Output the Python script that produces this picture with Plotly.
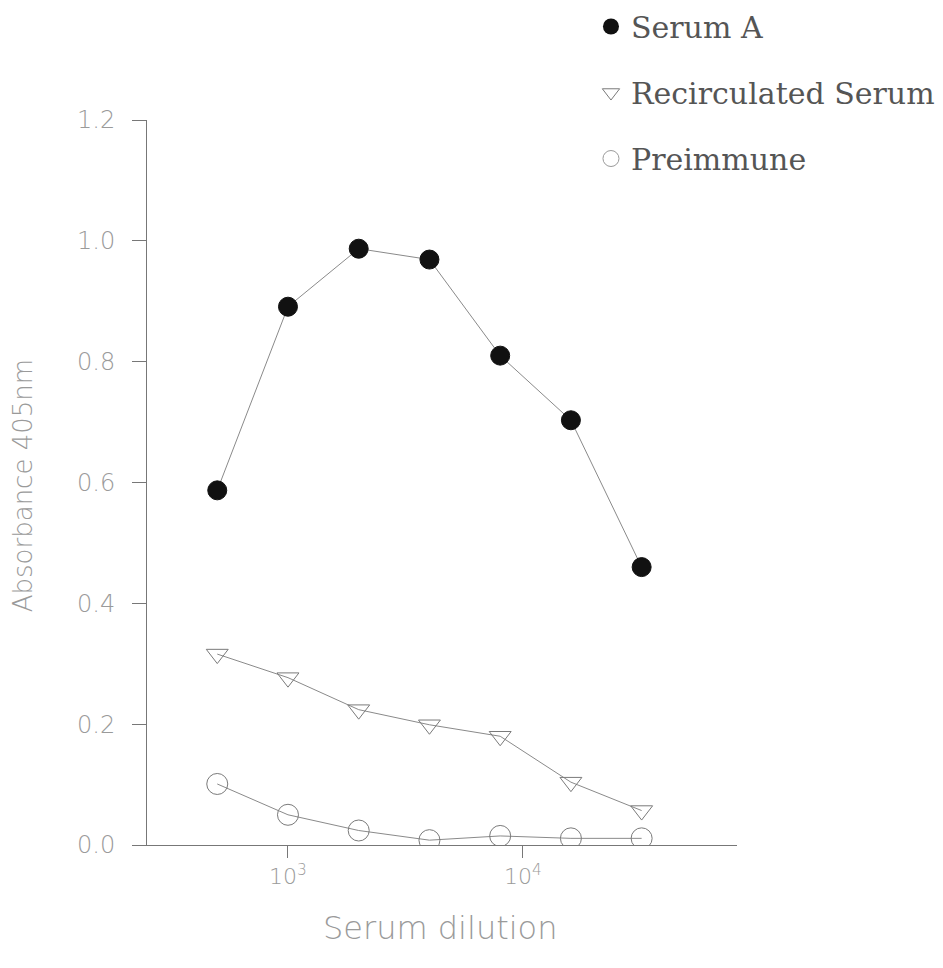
import plotly.graph_objects as go

dilution = [500, 1000, 2000, 4000, 8000, 16000, 32000]
serum_a = [0.587, 0.891, 0.987, 0.969, 0.810, 0.703, 0.460]
recirculated = [0.316, 0.277, 0.224, 0.199, 0.180, 0.104, 0.057]
preimmune = [0.101, 0.050, 0.024, 0.008, 0.015, 0.011, 0.011]

series_names = ["Serum A", "Recirculated Serum", "Preimmune"]
x_tickvals = [1000, 10000]
x_ticktext = ["10<sup>3</sup>", "10<sup>4</sup>"]
y_tickvals = [0.0, 0.2, 0.4, 0.6, 0.8, 1.0, 1.2]
y_ticktext = ["0.0", "0.2", "0.4", "0.6", "0.8", "1.0", "1.2"]
x_title = "Serum dilution"
y_title = "Absorbance 405nm"

line_col = "#8a8a8a"
text_col = "#9a9a9a"
marker_styles = [
    dict(symbol="circle", size=19, color="#111111", line=dict(color="#111111", width=1)),
    dict(symbol="triangle-down-open", size=19, color="#7a7a7a", line=dict(width=1)),
    dict(symbol="circle-open", size=21, color="#7a7a7a", line=dict(width=1)),
]
legend_marker_styles = [
    dict(symbol="circle", size=16, color="#111111"),
    dict(symbol="triangle-down-open", size=15, color="#7a7a7a", line=dict(width=1)),
    dict(symbol="circle-open", size=16, color="#9a9a9a", line=dict(width=1)),
]

fig = go.Figure()
for name, ys, ms in zip(series_names, [serum_a, recirculated, preimmune], marker_styles):
    fig.add_trace(go.Scatter(
        x=dilution, y=ys, name=name, mode="lines+markers", showlegend=False,
        line=dict(color=line_col, width=1), marker=ms,
    ))
# legend-only entries (markers without connecting line, as in the reference)
for i, (name, ms) in enumerate(zip(series_names, legend_marker_styles)):
    fig.add_trace(go.Scatter(
        x=[None], y=[None], name=name, mode="markers", showlegend=True,
        legendgroup=f"g{i}", marker=ms,
    ))

# the page body adds an 8px offset, so the figure is sized to fit the window
fig.update_layout(
    width=935, height=960,
    margin=dict(l=139, r=206, t=112, b=123, autoexpand=False),
    plot_bgcolor="white", paper_bgcolor="white",
    showlegend=True,
    legend=dict(
        xref="paper", yref="paper",
        x=0.7525, y=1.1648, xanchor="left", yanchor="top",
        font=dict(family="DejaVu Serif", size=30, color="#555555"),
        tracegroupgap=24, itemsizing="trace", bgcolor="rgba(0,0,0,0)",
    ),
    font=dict(family="DejaVu Sans", color=text_col),
    annotations=[
        dict(text=x_title, xref="paper", yref="paper", x=0.4966, y=-0.1145,
             xanchor="center", yanchor="middle", showarrow=False,
             font=dict(family="DejaVu Sans", size=32, color=text_col, weight=300)),
        dict(text=y_title, xref="paper", yref="paper", x=-0.210, y=0.495,
             xanchor="center", yanchor="middle", showarrow=False, textangle=-90,
             font=dict(family="DejaVu Sans", size=26, color=text_col, weight=300)),
    ],
)
fig.update_xaxes(
    type="log", range=[2.4, 4.911], automargin=False,
    tickvals=x_tickvals, ticktext=x_ticktext,
    ticks="outside", ticklen=12, tickcolor="#777777", tickwidth=1,
    ticklabelstandoff=0,
    showline=True, linecolor="#777777", linewidth=1,
    showgrid=False, zeroline=False,
    tickfont=dict(family="DejaVu Sans", size=22, color=text_col, weight=300),
)
fig.update_yaxes(
    range=[0, 1.2], automargin=False,
    tickvals=y_tickvals, ticktext=y_ticktext,
    ticks="outside", ticklen=14, tickcolor="#777777", tickwidth=1,
    ticklabelstandoff=12,
    showline=True, linecolor="#777777", linewidth=1,
    showgrid=False, zeroline=False,
    tickfont=dict(family="DejaVu Sans", size=24, color=text_col, weight=300),
)
fig.write_html("out.html")
